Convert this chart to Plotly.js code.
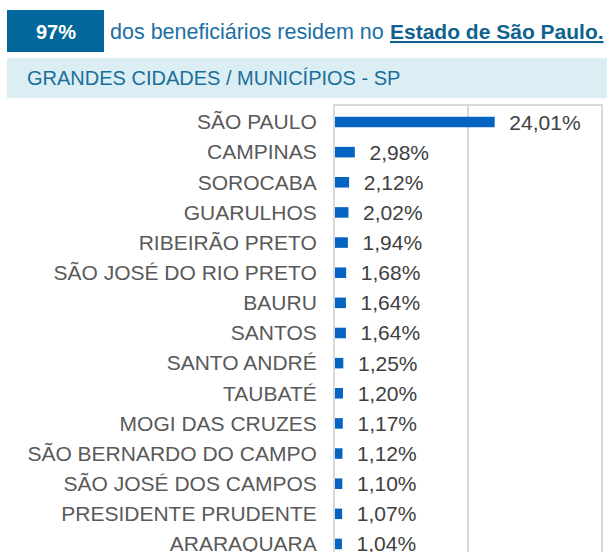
<!DOCTYPE html>
<html>
<head>
<meta charset="utf-8">
<script src="https://cdn.plot.ly/plotly-3.0.1.min.js"></script>
<style>
html,body{margin:0;padding:0;background:#fff;}
#chart{width:607px;height:552px;}
</style>
</head>
<body>
<div id="chart"></div>
<script>
const cities = ["SÃO PAULO","CAMPINAS","SOROCABA","GUARULHOS","RIBEIRÃO PRETO","SÃO JOSÉ DO RIO PRETO","BAURU","SANTOS","SANTO ANDRÉ","TAUBATÉ","MOGI DAS CRUZES","SÃO BERNARDO DO CAMPO","SÃO JOSÉ DOS CAMPOS","PRESIDENTE PRUDENTE","ARARAQUARA"];
const shares = [24.01,2.98,2.12,2.02,1.94,1.68,1.64,1.64,1.25,1.20,1.17,1.12,1.10,1.07,1.04];
const headlinePct = "97%";
const headlineText = "dos beneficiários residem no";
const headlineBold = "Estado de São Paulo.";
const sectionTitle = "GRANDES CIDADES / MUNICÍPIOS - SP";

const W = 607, H = 552;
const L = 335, R = 6, T = 106, B = 0;
const pw = W - L - R, ph = H - T - B;
const px = v => (v - L) / pw;
const py = v => (H - B - v) / ph;

const FONT = '"Liberation Sans", Arial, sans-serif';
const labels = shares.map(v => '\u00A0\u00A0' + v.toFixed(2).replace('.', ',') + '%');

const trace = {
  type: 'bar',
  orientation: 'h',
  x: shares,
  y: cities,
  width: 0.35,
  marker: {color: '#0563c1'},
  text: labels,
  textposition: 'outside',
  constraintext: 'none',
  cliponaxis: false,
  textfont: {family: FONT, size: 21, color: '#404040'},
  hoverinfo: 'none'
};

const layout = {
  width: W, height: H,
  margin: {l: L, r: R, t: T, b: B, pad: 0},
  paper_bgcolor: '#ffffff',
  plot_bgcolor: '#ffffff',
  showlegend: false,
  font: {family: FONT},
  xaxis: {
    range: [0, 40], dtick: 20, showticklabels: false, ticks: '',
    showgrid: true, gridcolor: '#d9d9d9', gridwidth: 2,
    zeroline: false, showline: true, mirror: true, linecolor: '#d9d9d9', linewidth: 2,
    fixedrange: true
  },
  yaxis: {
    type: 'category',
    range: [(H - 122) / 30.14, -(122 - T) / 30.14],
    showgrid: false, zeroline: false,
    showline: true, mirror: true, linecolor: '#d9d9d9', linewidth: 2,
    ticks: '', ticklabelstandoff: 12,
    tickfont: {family: FONT, size: 21, color: '#595959'},
    fixedrange: true
  },
  shapes: [
    {type: 'rect', xref: 'paper', yref: 'paper', x0: px(7), x1: px(104), y0: py(52), y1: py(10),
     fillcolor: '#04679b', line: {width: 0}, layer: 'above'},
    {type: 'rect', xref: 'paper', yref: 'paper', x0: px(7), x1: px(607), y0: py(98), y1: py(58),
     fillcolor: '#daeef3', line: {width: 0}, layer: 'above'}
  ],
  annotations: [
    {xref: 'paper', yref: 'paper', x: px(56), y: py(32), xanchor: 'center', yanchor: 'middle',
     text: '<b>' + headlinePct + '</b>', showarrow: false,
     font: {family: FONT, size: 20, color: '#ffffff'}},
    {xref: 'paper', yref: 'paper', x: px(108), y: py(32), xanchor: 'left', yanchor: 'middle',
     text: headlineText, showarrow: false,
     font: {family: FONT, size: 21.5, color: '#1b6fa3'}},
    {xref: 'paper', yref: 'paper', x: px(606), y: py(32), xanchor: 'right', yanchor: 'middle',
     text: '<b>' + headlineBold + '</b>', showarrow: false,
     font: {family: FONT, size: 21, color: '#0f628f', lineposition: 'under'}},
    {xref: 'paper', yref: 'paper', x: px(25), y: py(78), xanchor: 'left', yanchor: 'middle',
     text: sectionTitle, showarrow: false,
     font: {family: FONT, size: 20, color: '#1b6e9b'}}
  ]
};

Plotly.newPlot('chart', [trace], layout, {displayModeBar: false, staticPlot: true});
</script>
</body>
</html>
